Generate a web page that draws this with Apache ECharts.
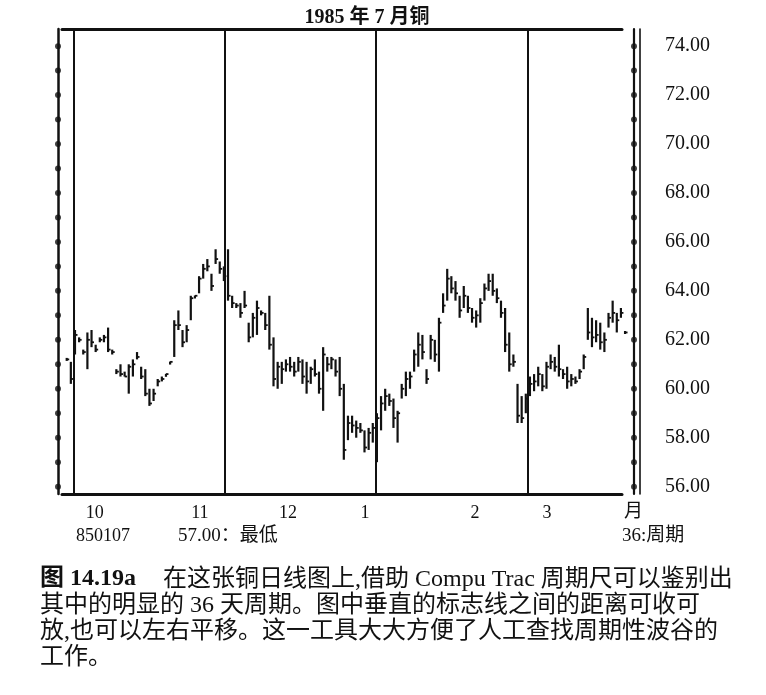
<!DOCTYPE html>
<html>
<head>
<meta charset="utf-8">
<title>1985年7月铜</title>
<script src="https://cdn.jsdelivr.net/npm/echarts@6/dist/echarts.min.js"></script>
<style>
html,body{margin:0;padding:0;background:#fff;}
#chart{width:766px;height:695px;}
</style>
</head>
<body>
<div id="chart"></div>
<script>
// 日线数据：最高、最低、收盘（按交易日顺序）
var highs = [61.2,61.1,62.4,62.1,61.6,62.3,62.4,61.8,62.1,62.2,62.5,61.6,60.8,61.0,60.7,61.0,61.2,61.5,60.9,60.8,
	60.0,60.0,60.4,60.5,60.6,61.1,62.8,63.2,62.4,62.6,63.8,63.8,64.6,65.1,65.3,64.7,65.7,65.2,65.0,65.7,
	63.8,63.5,63.5,64.0,62.7,63.1,63.6,63.2,63.1,63.8,62.1,61.1,61.1,61.2,61.3,61.1,61.3,61.2,61.1,60.9,
	61.2,60.7,61.7,61.3,61.3,61.2,61.3,60.2,58.9,58.9,58.7,58.6,58.3,58.4,58.6,59.0,59.7,60.0,59.8,59.6,
	59.1,60.2,60.7,60.7,61.6,62.3,62.2,60.8,62.2,62.0,62.9,63.9,64.9,64.6,64.4,63.8,64.2,63.8,63.3,63.2,
	63.7,64.3,64.7,64.7,64.1,63.6,63.3,62.3,61.4,60.2,59.7,59.8,60.5,60.6,60.9,60.6,61.1,61.4,61.3,61.8,
	60.8,60.9,60.6,60.5,60.8,61.4,63.3,62.9,62.8,62.7,62.3,63.1,63.6,63.1,63.3,62.3];
var lows = [61.2,60.2,61.4,61.9,61.4,60.8,61.7,61.5,61.9,61.9,61.5,61.4,60.6,60.5,60.5,59.8,60.5,61.2,60.4,59.7,
	59.3,59.5,60.1,60.3,60.5,61.0,61.3,62.4,61.7,61.9,62.8,63.7,63.9,64.5,64.8,64.0,65.1,64.7,64.4,63.6,
	63.3,63.3,62.9,63.3,61.9,62.1,62.2,63.0,62.4,61.6,60.1,60.0,60.2,60.7,60.7,60.5,60.7,60.2,59.8,60.2,
	60.5,59.8,59.1,60.7,60.8,60.5,59.7,57.1,57.9,58.2,58.0,58.2,57.4,57.5,57.8,57.0,58.3,59.1,59.3,58.4,
	57.8,59.6,59.7,60.0,60.7,60.9,61.2,60.2,61.2,61.1,60.7,63.1,63.6,63.9,63.6,62.9,63.3,63.1,62.7,62.5,
	62.7,63.6,64.0,63.8,63.5,62.9,61.5,60.7,60.9,58.6,58.6,59.0,59.7,59.9,60.1,59.9,60.0,60.8,60.7,60.5,
	60.4,60.0,60.1,60.2,60.4,60.8,62.0,61.7,61.9,61.6,61.5,62.5,62.7,62.3,62.9,62.3];
var closes = [61.2,60.4,62.2,62.0,61.5,62.0,61.9,61.6,62.0,62.1,61.6,61.5,60.7,60.6,60.5,60.9,61.0,61.3,60.5,59.8,
	59.4,59.8,60.3,60.4,60.6,61.1,62.6,62.6,61.9,62.4,63.7,63.8,64.5,64.9,65.0,64.2,65.3,64.9,64.6,63.8,
	63.5,63.4,63.1,63.4,62.1,62.9,63.3,63.1,62.6,61.8,60.4,60.9,60.8,61.0,60.9,60.7,61.1,60.5,60.3,60.8,
	60.6,60.0,61.4,61.0,61.2,60.7,60.0,57.5,58.6,58.5,58.4,58.3,57.6,58.2,58.4,58.8,59.4,59.7,59.5,58.8,
	59.0,60.0,60.4,60.5,61.4,61.8,61.5,60.4,62.0,61.4,62.7,63.4,64.5,64.1,63.9,63.2,63.8,63.3,62.9,63.0,
	63.5,64.1,64.4,64.0,63.7,63.1,61.8,61.0,61.1,58.9,58.8,59.6,60.2,60.3,60.6,60.1,60.9,61.1,60.9,60.8,
	60.6,60.3,60.4,60.3,60.7,61.3,62.3,62.1,62.2,61.9,62.0,62.9,63.1,62.8,63.1,62.3];

// 36天周期尺的标志线位置（交易日序号）
var cycleDays = [1.8, 38.3, 74.8, 111.5];

// 月份刻度
var monthPos = [6.8, 32.2, 53.5, 72.1, 98.7, 116.1];
var monthLabels = ['10', '11', '12', '1', '2', '3'];

// 价格刻度
var priceTicks = [56, 58, 60, 62, 64, 66, 68, 70, 72, 74];
var dotLevels = [56, 57, 58, 59, 60, 61, 62, 63, 64, 65, 66, 67, 68, 69, 70, 71, 72, 73, 74];

var serif = "'Liberation Serif','Noto Sans CJK SC',serif";
var ink = '#111';

var xMin = -1.14, xMax = 134.26;
var yMin = 55.7, yMax = 74.7;
var gridL = 62, gridR = 622;
var pxPerDay = (gridR - gridL) / (xMax - xMin);

function buildBars(){
	var data = [];
	for(var i = 0; i < highs.length; i++){
		data.push([i, highs[i], lows[i], closes[i]]);
	}
	return data;
}

function buildDots(xv){
	var data = [];
	for(var i = 0; i < dotLevels.length; i++){
		data.push([xv, dotLevels[i]]);
	}
	return data;
}

// 美国线：高低竖线 + 右侧收盘短横
function renderBar(params, api){
	var x = api.value(0);
	var pH = api.coord([x, api.value(1)]);
	var pL = api.coord([x, api.value(2)]);
	var pC = api.coord([x, api.value(3)]);
	var top = pH[1], bot = pL[1];
	if(bot - top < 3){
		var m = (top + bot) / 2;
		top = m - 1.5;
		bot = m + 1.5;
	}
	return {
		type: 'group',
		children: [
			{type: 'line', shape: {x1: pH[0], y1: top, x2: pH[0], y2: bot}, style: {stroke: ink, lineWidth: 2.2}},
			{type: 'line', shape: {x1: pC[0], y1: pC[1], x2: pC[0] + 2.5, y2: pC[1]}, style: {stroke: ink, lineWidth: 1.8}}
		]
	};
}

function yAxisBase(pos, offset, width){
	return {
		type: 'value', min: yMin, max: yMax, position: pos, offset: offset,
		axisLine: {show: true, onZero: false, lineStyle: {color: ink, width: width}},
		axisTick: {show: false},
		axisLabel: {show: false},
		splitLine: {show: false}
	};
}

var myChart = echarts.init(document.getElementById('chart'));

var rightAxis = yAxisBase('right', 12, 2.2);
rightAxis.axisLabel = {
	show: true,
	customValues: priceTicks,
	margin: 31,
	fontFamily: serif, fontSize: 20, color: ink,
	formatter: function(v){ return v.toFixed(2); }
};

var option = {
	backgroundColor: '#fff',
	animation: false,
	title: {
		text: '1985 年 7 月铜',
		left: 362,
		top: 3,
		textAlign: 'center',
		textStyle: {fontFamily: serif, fontSize: 20, fontWeight: 'bold', color: ink}
	},
	grid: {left: gridL, right: 766 - gridR, top: 29, bottom: 695 - 494},
	xAxis: [
		{
			type: 'value', min: xMin, max: xMax, position: 'bottom',
			axisLine: {show: true, onZero: false, lineStyle: {color: ink, width: 3}},
			axisTick: {show: false},
			splitLine: {show: false},
			axisLabel: {
				customValues: monthPos,
				margin: 10,
				fontFamily: serif, fontSize: 18, color: ink,
				formatter: function(v){
					var best = 0;
					for(var i = 1; i < monthPos.length; i++){
						if(Math.abs(monthPos[i] - v) < Math.abs(monthPos[best] - v)) best = i;
					}
					return monthLabels[best];
				}
			}
		},
		{
			type: 'value', min: xMin, max: xMax, position: 'top',
			axisLine: {show: true, onZero: false, lineStyle: {color: ink, width: 3}},
			axisTick: {show: false},
			axisLabel: {show: false},
			splitLine: {show: false}
		}
	],
	yAxis: [
		yAxisBase('left', 4, 2.5),
		rightAxis,
		yAxisBase('right', 18, 1.6)
	],
	series: [
		{
			name: '铜日线',
			type: 'custom',
			renderItem: renderBar,
			clip: false,
			encode: {x: 0, y: [1, 2, 3]},
			data: buildBars(),
			markLine: {
				silent: true,
				symbol: 'none',
				label: {show: false},
				lineStyle: {color: ink, width: 2, type: 'solid'},
				data: cycleDays.map(function(d){ return {xAxis: d}; })
			}
		},
		{
			name: '左轴点',
			type: 'scatter',
			clip: false,
			symbol: 'circle',
			symbolSize: 6,
			itemStyle: {color: ink},
			data: buildDots(xMin - 4 / pxPerDay)
		},
		{
			name: '右轴点',
			type: 'scatter',
			clip: false,
			symbol: 'circle',
			symbolSize: 6,
			itemStyle: {color: ink},
			data: buildDots(xMax + 12 / pxPerDay)
		}
	],
	graphic: [
		{type: 'text', left: 624, top: 503, style: {text: '月', font: "19px " + serif, fill: ink}},
		{type: 'text', left: 76, top: 527, style: {text: '850107', font: "18px " + serif, fill: ink}},
		{type: 'text', left: 178, top: 527, style: {text: '57.00：最低', font: "19px " + serif, fill: ink}},
		{type: 'text', left: 622, top: 527, style: {text: '36:周期', font: "19px " + serif, fill: ink}},
		{type: 'text', left: 40, top: 567, style: {text: '图 14.19a', font: "bold 24px " + serif, fill: ink}},
		{type: 'text', left: 163, top: 568, style: {text: '在这张铜日线图上,借助 Compu Trac 周期尺可以鉴别出', font: "24px " + serif, fill: ink}},
		{type: 'text', left: 40, top: 594, style: {text: '其中的明显的 36 天周期。图中垂直的标志线之间的距离可收可', font: "24px " + serif, fill: ink}},
		{type: 'text', left: 40, top: 620, style: {text: '放,也可以左右平移。这一工具大大方便了人工查找周期性波谷的', font: "24px " + serif, fill: ink}},
		{type: 'text', left: 40, top: 646, style: {text: '工作。', font: "24px " + serif, fill: ink}}
	]
};

myChart.setOption(option);
</script>
</body>
</html>
